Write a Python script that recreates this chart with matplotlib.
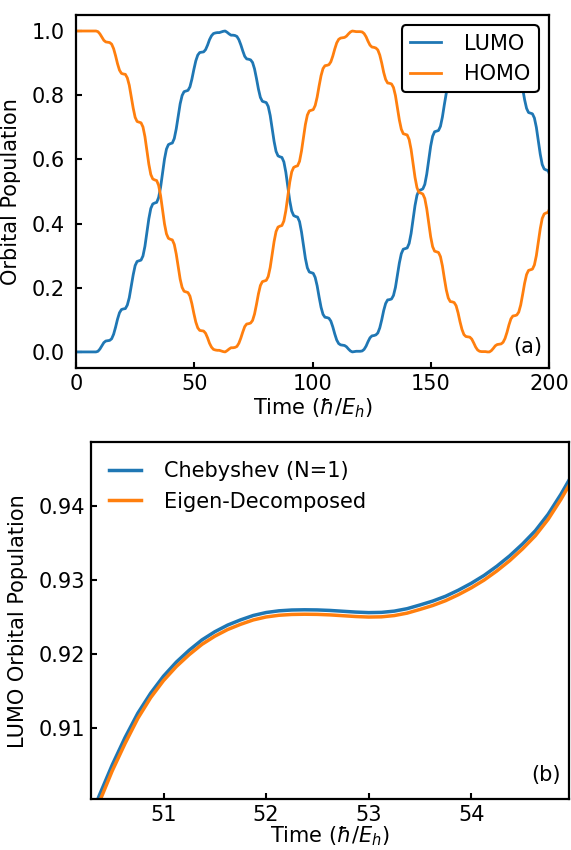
import numpy as np
import matplotlib
matplotlib.use('Agg')
import matplotlib.pyplot as plt

# panel (a): orbital populations, sampled every T/8 (T = 6.62) from t = 6.80, plus t = 0
lumo = [0.000,
        0.000, 0.000, 0.000, 0.002, 0.009, 0.019, 0.029, 0.034,
        0.035, 0.036, 0.041, 0.055, 0.077, 0.102, 0.122, 0.132,
        0.134, 0.135, 0.146, 0.169, 0.204, 0.240, 0.269, 0.282,
        0.284, 0.286, 0.299, 0.329, 0.371, 0.415, 0.447, 0.461,
        0.464, 0.466, 0.481, 0.513, 0.557, 0.601, 0.632, 0.646,
        0.649, 0.651, 0.665, 0.695, 0.735, 0.773, 0.799, 0.811,
        0.813, 0.815, 0.826, 0.850, 0.880, 0.907, 0.925, 0.933,
        0.934, 0.935, 0.942, 0.956, 0.973, 0.985, 0.992, 0.994,
        0.995, 0.995, 0.997, 0.999, 1.000, 0.996, 0.991, 0.987,
        0.987, 0.986, 0.983, 0.973, 0.957, 0.938, 0.921, 0.913,
        0.912, 0.910, 0.902, 0.882, 0.852, 0.819, 0.793, 0.781,
        0.779, 0.777, 0.765, 0.737, 0.697, 0.656, 0.625, 0.611,
        0.608, 0.606, 0.592, 0.560, 0.516, 0.471, 0.439, 0.425,
        0.422, 0.420, 0.406, 0.374, 0.332, 0.291, 0.262, 0.249,
        0.247, 0.245, 0.232, 0.206, 0.171, 0.139, 0.117, 0.108,
        0.107, 0.105, 0.096, 0.078, 0.056, 0.037, 0.026, 0.022,
        0.021, 0.020, 0.016, 0.009, 0.003, 0.000, 0.001, 0.002,
        0.002, 0.002, 0.003, 0.008, 0.018, 0.032, 0.044, 0.050,
        0.051, 0.053, 0.059, 0.075, 0.100, 0.129, 0.151, 0.162,
        0.163, 0.165, 0.176, 0.201, 0.238, 0.277, 0.306, 0.320,
        0.322, 0.324, 0.338, 0.369, 0.412, 0.456, 0.488, 0.503,
        0.505, 0.508, 0.522, 0.554, 0.598, 0.641, 0.672, 0.686,
        0.688, 0.690, 0.703, 0.732, 0.771, 0.807, 0.832, 0.843,
        0.844, 0.846, 0.856, 0.878, 0.906, 0.930, 0.946, 0.952,
        0.953, 0.954, 0.960, 0.972, 0.985, 0.994, 0.998, 0.999,
        0.999, 0.999, 1.000, 1.000, 0.996, 0.989, 0.981, 0.977,
        0.976, 0.975, 0.970, 0.958, 0.939, 0.916, 0.897, 0.888,
        0.887, 0.885, 0.876, 0.854, 0.821, 0.786, 0.759, 0.746,
        0.744, 0.742, 0.729, 0.700, 0.658, 0.616, 0.584, 0.570,
        0.567, 0.565, 0.550]

homo = [1.000,
        1.000, 1.000, 1.000, 0.998, 0.991, 0.981, 0.971, 0.966,
        0.965, 0.964, 0.959, 0.945, 0.923, 0.898, 0.878, 0.868,
        0.866, 0.865, 0.854, 0.831, 0.796, 0.760, 0.731, 0.718,
        0.716, 0.714, 0.701, 0.671, 0.629, 0.585, 0.553, 0.539,
        0.536, 0.534, 0.519, 0.487, 0.443, 0.399, 0.368, 0.354,
        0.351, 0.349, 0.335, 0.305, 0.265, 0.227, 0.201, 0.189,
        0.187, 0.185, 0.174, 0.150, 0.120, 0.093, 0.075, 0.067,
        0.066, 0.065, 0.058, 0.044, 0.027, 0.015, 0.008, 0.006,
        0.005, 0.005, 0.003, 0.001, 0.000, 0.004, 0.009, 0.013,
        0.013, 0.014, 0.017, 0.027, 0.043, 0.062, 0.079, 0.087,
        0.088, 0.090, 0.098, 0.118, 0.148, 0.181, 0.207, 0.219,
        0.221, 0.223, 0.235, 0.263, 0.303, 0.344, 0.375, 0.389,
        0.392, 0.394, 0.408, 0.440, 0.484, 0.529, 0.561, 0.575,
        0.578, 0.580, 0.594, 0.626, 0.668, 0.709, 0.738, 0.751,
        0.753, 0.755, 0.768, 0.794, 0.829, 0.861, 0.883, 0.892,
        0.893, 0.895, 0.904, 0.922, 0.944, 0.963, 0.974, 0.978,
        0.979, 0.980, 0.984, 0.991, 0.997, 1.000, 0.999, 0.998,
        0.998, 0.998, 0.997, 0.992, 0.982, 0.968, 0.956, 0.950,
        0.949, 0.947, 0.941, 0.925, 0.900, 0.871, 0.849, 0.838,
        0.837, 0.835, 0.824, 0.799, 0.762, 0.723, 0.694, 0.680,
        0.678, 0.676, 0.662, 0.631, 0.588, 0.544, 0.512, 0.497,
        0.495, 0.492, 0.478, 0.446, 0.402, 0.359, 0.328, 0.314,
        0.312, 0.310, 0.297, 0.268, 0.229, 0.193, 0.168, 0.157,
        0.156, 0.154, 0.144, 0.122, 0.094, 0.070, 0.054, 0.048,
        0.047, 0.046, 0.040, 0.028, 0.015, 0.006, 0.002, 0.001,
        0.001, 0.001, 0.000, 0.000, 0.004, 0.011, 0.019, 0.023,
        0.024, 0.025, 0.030, 0.042, 0.061, 0.084, 0.103, 0.112,
        0.113, 0.115, 0.124, 0.146, 0.179, 0.214, 0.241, 0.254,
        0.256, 0.258, 0.271, 0.300, 0.342, 0.384, 0.416, 0.430,
        0.433, 0.435, 0.450]

time_a = np.concatenate([[0.0], 6.80 + (6.62 / 8) * np.arange(len(lumo) - 1)])

# panel (b): zoom on the LUMO curve, every 0.125 from 50.25 to 55.0
cheb = [0.8965, 0.9009, 0.9050, 0.9087, 0.9120, 0.9147, 0.9170, 0.9189,
        0.9205, 0.9219, 0.9230, 0.9239, 0.9246, 0.9252, 0.9256, 0.92583,
        0.92594, 0.92597, 0.92595, 0.92588, 0.92577, 0.92566, 0.92559, 0.92562,
        0.92579, 0.92612, 0.92662, 0.92715, 0.92780, 0.92862, 0.92955, 0.93061,
        0.93186, 0.93326, 0.93486, 0.93665, 0.93888, 0.94159, 0.94460]
eigen = [0.8956, 0.9000, 0.9042, 0.9079, 0.9113, 0.9141, 0.9164, 0.9183,
         0.9199, 0.9213, 0.9224, 0.9233, 0.9240, 0.9246, 0.9250, 0.92523,
         0.92534, 0.92537, 0.92535, 0.92528, 0.92517, 0.92506, 0.92499, 0.92502,
         0.92519, 0.92552, 0.92602, 0.92655, 0.92720, 0.92801, 0.92893, 0.92998,
         0.93122, 0.93261, 0.93420, 0.93598, 0.93820, 0.94090, 0.94390]
time_b = np.linspace(50.25, 55.0, len(cheb))

plt.rcParams['font.size'] = 15
plt.rcParams['mathtext.fontset'] = 'dejavusans'

fig = plt.figure(figsize=(5.71, 8.5), dpi=100)
ax1 = fig.add_axes([0.1331, 0.5671, 0.8284, 0.4153])
ax2 = fig.add_axes([0.1588, 0.0600, 0.8371, 0.4196])

ax1.plot(time_a, lumo, color='#1f77b4', lw=2, label='LUMO')
ax1.plot(time_a, homo, color='#ff7f0e', lw=2, label='HOMO')
ax1.set_xlim(0, 200)
ax1.set_ylim(-0.05, 1.05)
ax1.set_xticks([0, 50, 100, 150, 200])
ax1.set_yticks([0.0, 0.2, 0.4, 0.6, 0.8, 1.0])
ax1.set_xlabel(r'Time ($\hbar/E_h$)', labelpad=2)
ax1.set_ylabel('Orbital Population', labelpad=8)
leg = ax1.legend(loc='upper right', handlelength=1.5, handletextpad=1.1,
                 framealpha=1)
leg.get_frame().set_edgecolor('black')
leg.get_frame().set_linewidth(1.5)
ax1.text(0.985, 0.03, '(a)', transform=ax1.transAxes, ha='right', va='bottom')
ax1.tick_params(axis='y', pad=8)
ax1.tick_params(axis='x', pad=4)

ax2.plot(time_b, cheb, color='#1f77b4', lw=2.5, label='Chebyshev (N=1)')
ax2.plot(time_b, eigen, color='#ff7f0e', lw=2.5, label='Eigen-Decomposed')
ax2.set_xlim(50.29, 54.95)
ax2.set_ylim(0.9004, 0.9486)
ax2.set_xticks([51, 52, 53, 54])
ax2.set_yticks([0.91, 0.92, 0.93, 0.94])
ax2.set_xlabel(r'Time ($\hbar/E_h$)', labelpad=0)
ax2.set_ylabel('LUMO Orbital Population', labelpad=8)
ax2.legend(loc='upper left', frameon=False, handlelength=1.5, handletextpad=1.1)
ax2.text(0.984, 0.04, '(b)', transform=ax2.transAxes, ha='right', va='bottom')
ax2.tick_params(axis='y', pad=4)
ax2.tick_params(axis='x', pad=4)

for ax in (ax1, ax2):
    ax.tick_params(direction='in', length=4, width=1.5)
    for s in ax.spines.values():
        s.set_linewidth(1.6)
        s.set_color('black')

fig.savefig('out.png', dpi=100)
